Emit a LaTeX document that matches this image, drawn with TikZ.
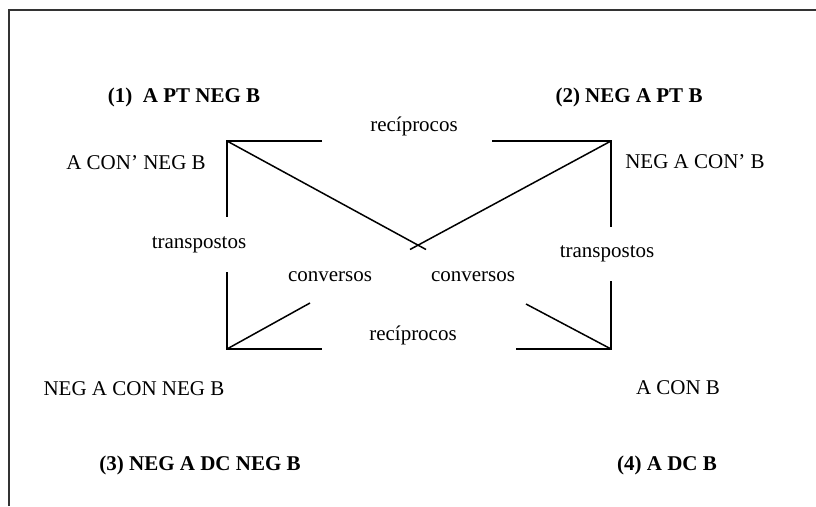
\documentclass[tikz,border=0pt]{standalone}
\usepackage{fontspec}
\setmainfont{Liberation Serif}

\begin{document}
\begin{tikzpicture}[x = 1pt, y = -1pt, font = \fontsize{21}{24}\selectfont]
\tikzstyle{FrameStyle} = [line width = 2pt, draw = black!80]
\tikzstyle{EdgeStyle} = [line width = 1.5pt]
\tikzstyle{textStyle} = [inner sep = 0pt, anchor = base]
\tikzstyle{titleStyle} = [inner sep = 0pt, anchor = base, font = \fontsize{21}{24}\selectfont\bfseries]
\useasboundingbox (0,0) rectangle (816,506);
% frame
\coordinate (f0) at (9,506);
\coordinate (f1) at (9,10);
\coordinate (f2) at (816,10);
\draw[FrameStyle] (f0) -- (f1) -- (f2);
% corners and line ends
\coordinate (tl) at (227,141);
\coordinate (tr) at (611,141);
\coordinate (bl) at (227,349);
\coordinate (br) at (611,349);
\coordinate (tlTop) at (322,141);
\coordinate (trTop) at (492,141);
\coordinate (tlDown) at (227,217);
\coordinate (blUp) at (227,272);
\coordinate (trDown) at (611,227);
\coordinate (brUp) at (611,281);
\coordinate (tlCross) at (426,249.5);
\coordinate (trCross) at (410,249.5);
\coordinate (blBottom) at (322,349);
\coordinate (brBottom) at (516,349);
\coordinate (blDiag) at (310,303);
\coordinate (brDiag) at (526,304);
% labels
\node[titleStyle] (p1) at (184,102) {(1)~ A PT NEG B};
\node[titleStyle] (p2) at (629,102) {(2) NEG A PT B};
\node[titleStyle] (p3) at (200,470) {(3) NEG A DC NEG B};
\node[titleStyle] (p4) at (667,470) {(4) A DC B};
\node[textStyle] (s1) at (136,169) {A CON’ NEG B};
\node[textStyle] (s2) at (695,168) {NEG A CON’ B};
\node[textStyle] (s3) at (134,395) {NEG A CON NEG B};
\node[textStyle] (s4) at (678,394) {A CON B};
\node[textStyle] (recTop) at (414,131) {recíprocos};
\node[textStyle] (recBottom) at (413,340) {recíprocos};
\node[textStyle] (traLeft) at (199,248) {transpostos};
\node[textStyle] (traRight) at (607,257) {transpostos};
\node[textStyle] (conLeft) at (330,281) {conversos};
\node[textStyle] (conRight) at (473,281) {conversos};
% edges
\draw[EdgeStyle] (tlTop) -- (tl) -- (tlDown);
\draw[EdgeStyle] (trTop) -- (tr) -- (trDown);
\draw[EdgeStyle] (blUp) -- (bl) -- (blBottom);
\draw[EdgeStyle] (brUp) -- (br) -- (brBottom);
\draw[EdgeStyle] (tl) -- (tlCross);
\draw[EdgeStyle] (tr) -- (trCross);
\draw[EdgeStyle] (bl) -- (blDiag);
\draw[EdgeStyle] (br) -- (brDiag);
\end{tikzpicture}
\end{document}
